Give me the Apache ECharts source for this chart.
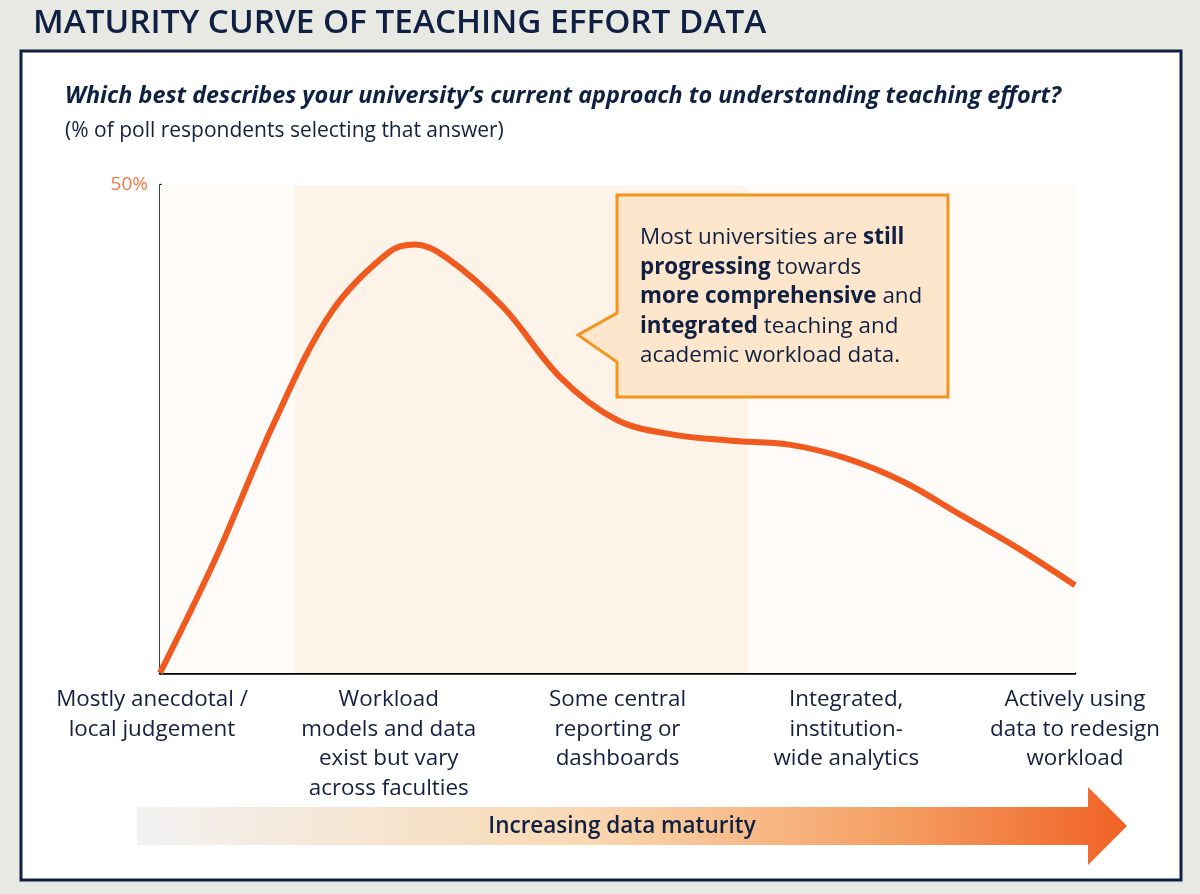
<!DOCTYPE html>
<html>
<head>
<meta charset="utf-8">
<script src="https://cdn.jsdelivr.net/npm/echarts@6/dist/echarts.min.js"></script>
<style>
  html, body { margin: 0; padding: 0; background: #e9e9e4; }
  #main { width: 1200px; height: 894px; }
</style>
</head>
<body>
<div id="main"></div>
<script>
// maturity stages along the x axis
var stages = [
  'Mostly anecdotal /\nlocal judgement',
  'Workload\nmodels and data\nexist but vary\nacross faculties',
  'Some central\nreporting or\ndashboards',
  'Integrated,\ninstitution-\nwide analytics',
  'Actively using\ndata to redesign\nworkload'
];
// curve (x = stage position, y = % respondents)
var curveX = [0, 0.25, 0.5, 0.75, 1, 1.115, 1.25, 1.5, 1.75, 2, 2.25, 2.5, 2.75, 3, 3.25, 3.5, 3.75, 4];
var curveY = [0, 12.1, 25.7, 37.0, 43.1, 43.9, 42.6, 37.5, 30.3, 25.9, 24.4, 23.8, 23.4, 22.0, 19.6, 16.2, 12.8, 9.0];
// shaded bands (stage positions)
var bandAll = [0, 4];
var bandMid = [0.59, 2.57];
var yMax = 50;

var navy = '#0f2042';
var font = '"Open Sans", "Noto Sans", sans-serif';

var chart = echarts.init(document.getElementById('main'));

var points = [];
for (var i = 0; i < curveX.length; i++) {
  points.push([curveX[i], curveY[i]]);
}

var option = {
  backgroundColor: '#e9e9e4',
  animation: false,
  grid: { left: 160, right: 125, top: 185, bottom: 221 },
  xAxis: {
    type: 'value',
    min: 0, max: stages.length - 1, interval: 1,
    splitLine: { show: false },
    axisTick: { show: false },
    axisLine: { lineStyle: { color: '#000', width: 2.5 } },
    axisLabel: {
      margin: 12,
      color: '#14203d',
      fontFamily: font,
      fontSize: 22.4,
      lineHeight: 29.5,
      formatter: function (v) {
        var i = Math.round(v);
        if (i === 0) {
          // first label sits a little left of the axis origin
          return stages[0].split('\n').map(function (s) { return '{f|' + s + '}'; }).join('\n');
        }
        return stages[i];
      },
      rich: {
        f: { fontFamily: font, fontSize: 22.4, lineHeight: 29.5, color: '#14203d', padding: [0, 16, 0, 0] }
      }
    }
  },
  yAxis: {
    type: 'value',
    min: 0, max: yMax, interval: yMax,
    splitLine: { show: false },
    axisTick: { show: false },
    axisLine: { show: true, lineStyle: { color: '#000', width: 2.5 } },
    axisLabel: {
      margin: 12,
      color: '#f07b45',
      fontFamily: font,
      fontSize: 19,
      formatter: function (v) { return v === yMax ? v + '%' : ''; }
    }
  },
  series: [{
    type: 'line',
    data: points,
    smooth: 0.35,
    showSymbol: false,
    lineStyle: { color: '#f05a1e', width: 6 },
    markArea: {
      silent: true,
      data: [
        [{ xAxis: bandAll[0], yAxis: 0, itemStyle: { color: '#fffbf8' } }, { xAxis: bandAll[1], yAxis: yMax + 0.5 }],
        [{ xAxis: bandMid[0], yAxis: 0, itemStyle: { color: '#fdf3e8' } }, { xAxis: bandMid[1], yAxis: yMax - 0.1 }]
      ]
    }
  }],
  graphic: [
    // white panel
    {
      type: 'rect', z: -1,
      shape: { x: 21, y: 51, width: 1160, height: 829 },
      style: { fill: '#fff', stroke: navy, lineWidth: 3 }
    },
    {
      type: 'text', x: 33, y: 24,
      style: {
        text: 'MATURITY CURVE OF TEACHING EFFORT DATA',
        fill: navy,
        font: '600 33.3px ' + font,
        textVerticalAlign: 'middle'
      }
    },
    {
      type: 'text', x: 65, y: 96,
      style: {
        text: 'Which best describes your university\u2019s current approach to understanding teaching effort?',
        fill: navy,
        font: 'italic bold 23.4px ' + font,
        textVerticalAlign: 'middle'
      }
    },
    {
      type: 'text', x: 65, y: 131,
      style: {
        text: '(% of poll respondents selecting that answer)',
        fill: '#14203d',
        font: '21px ' + font,
        textVerticalAlign: 'middle'
      }
    },
    // callout
    {
      type: 'polygon', z: 10,
      shape: { points: [[617, 195], [948, 195], [948, 397], [617, 397], [617, 362], [578, 335], [617, 313]] },
      style: { fill: '#fde6cb', stroke: '#f4951f', lineWidth: 3, lineJoin: 'miter' }
    },
    {
      type: 'text', z: 11, x: 640, y: 223,
      style: {
        text: 'Most universities are {b|still}\n{b|progressing} towards\n{b|more comprehensive} and\n{b|integrated} teaching and\nacademic workload data.',
        fill: navy,
        font: '22.4px ' + font,
        lineHeight: 29.5,
        rich: {
          b: { fontWeight: 'bold', fontSize: 22.4, fontFamily: font, fill: navy, lineHeight: 29.5 }
        }
      }
    },
    // maturity arrow
    {
      type: 'polygon', z: 5,
      shape: { points: [[137, 807], [1088, 807], [1088, 787], [1127, 826], [1088, 865], [1088, 845], [137, 845]] },
      style: {
        fill: new echarts.graphic.LinearGradient(0, 0, 1, 0, [
          { offset: 0, color: '#f2f2f2' },
          { offset: 0.45, color: '#f9d9b3' },
          { offset: 0.75, color: '#f5a267' },
          { offset: 1, color: '#f06124' }
        ])
      }
    },
    {
      type: 'text', z: 6, x: 622, y: 827,
      style: {
        text: 'Increasing data maturity',
        fill: navy,
        font: '600 22.5px ' + font,
        textAlign: 'center',
        textVerticalAlign: 'middle'
      }
    }
  ]
};

chart.setOption(option);
</script>
</body>
</html>
